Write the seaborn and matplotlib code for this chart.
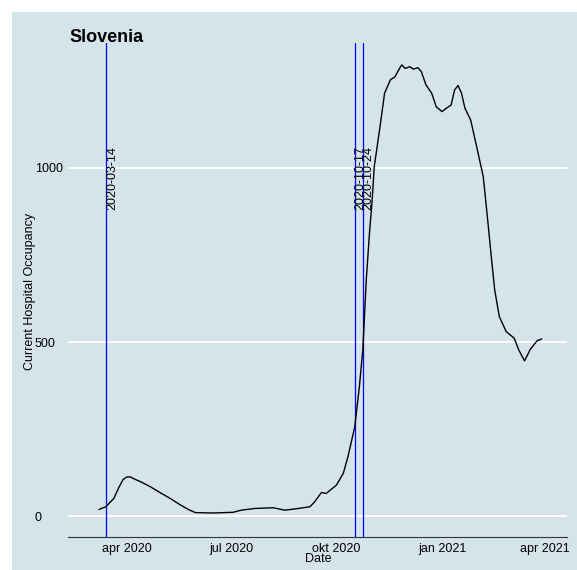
import matplotlib
matplotlib.use("Agg")
import matplotlib.pyplot as plt
from matplotlib.patches import Rectangle
import pandas as pd
import seaborn as sns

# ── data ──────────────────────────────────────────────────────────────────────
DATES = ["2020-03-08", "2020-03-14", "2020-03-21", "2020-03-25", "2020-03-29",
         "2020-04-01", "2020-04-04", "2020-04-07", "2020-04-15", "2020-04-22",
         "2020-04-30", "2020-05-09", "2020-05-18", "2020-05-25", "2020-05-31",
         "2020-06-16", "2020-07-03", "2020-07-10", "2020-07-22", "2020-08-07",
         "2020-08-17", "2020-08-29", "2020-09-08", "2020-09-12", "2020-09-18",
         "2020-09-22", "2020-10-01", "2020-10-07", "2020-10-11", "2020-10-17",
         "2020-10-21", "2020-10-24", "2020-10-27", "2020-10-30", "2020-11-01",
         "2020-11-03", "2020-11-08", "2020-11-12", "2020-11-17", "2020-11-21",
         "2020-11-25", "2020-11-27", "2020-11-30", "2020-12-04", "2020-12-07",
         "2020-12-11", "2020-12-14", "2020-12-18", "2020-12-23", "2020-12-27",
         "2021-01-01", "2021-01-05", "2021-01-09", "2021-01-12", "2021-01-15",
         "2021-01-18", "2021-01-21", "2021-01-26", "2021-01-31", "2021-02-06",
         "2021-02-10", "2021-02-13", "2021-02-16", "2021-02-20", "2021-02-26",
         "2021-03-05", "2021-03-09", "2021-03-14", "2021-03-19", "2021-03-25",
         "2021-03-29"]
OCCUPANCY = [19, 27, 51, 80, 105,
             112, 113, 108, 96, 84,
             68, 51, 32, 19, 10,
             9, 11, 17, 22, 24,
             17, 22, 27, 41, 68,
             65, 89, 123, 170, 257,
             372, 477, 678, 822, 900,
             1004, 1119, 1215, 1253, 1262,
             1286, 1296, 1286, 1291, 1284,
             1288, 1277, 1239, 1215, 1176,
             1162, 1172, 1181, 1224, 1237,
             1215, 1172, 1138, 1065, 975,
             846, 745, 649, 573, 530,
             511, 477, 446, 479, 504,
             509]
EVENTS = ["2020-03-14", "2020-10-17", "2020-10-24"]
XTICKS = ["2020-04-01", "2020-07-01", "2020-10-01", "2021-01-01", "2021-04-01"]
XTICK_LABELS = ["apr 2020", "jul 2020", "okt 2020", "jan 2021", "apr 2021"]
YTICKS = [0, 500, 1000]

BG = "#d5e4eb"
W, H = 577, 570

sns.set_style("white")
plt.rcParams["font.family"] = ["Liberation Sans", "DejaVu Sans"]
plt.rcParams.update({"text.color": "black", "axes.labelcolor": "black",
                     "xtick.color": "black", "ytick.color": "black"})

df = pd.DataFrame({"date": pd.to_datetime(DATES), "occ": OCCUPANCY})

fig = plt.figure(figsize=(W / 100, H / 100), dpi=100, facecolor="white")
fig.patches.append(Rectangle((12 / W, 0), 1, 1 - 12 / H, transform=fig.transFigure,
                             facecolor=BG, edgecolor="none", zorder=-10))
ax = fig.add_axes([68 / W, 33 / H, 499 / W, 494 / H])
ax.set_facecolor(BG)

# white horizontal grid
for y in YTICKS:
    ax.axhline(y, color="white", lw=1.3, zorder=1)

sns.lineplot(data=df, x="date", y="occ", color="black", lw=1.0, ax=ax, zorder=3)

# event markers
for d in EVENTS:
    dt = pd.Timestamp(d)
    ax.axvline(dt, color="#0000ff", lw=0.9, zorder=2)
    ax.text(dt, 879, d, rotation=90, ha="left", va="bottom", fontsize=9, zorder=4)

ax.set_xlim(pd.Timestamp("2020-02-10"), pd.Timestamp("2021-04-20"))
ax.set_ylim(-60, 1359)
ax.set_xticks(pd.to_datetime(XTICKS))
ax.set_xticklabels(XTICK_LABELS, fontsize=9)
ax.set_yticks(YTICKS)
ax.set_yticklabels([str(v) for v in YTICKS], fontsize=9)
for lab in ax.get_yticklabels():
    lab.set_horizontalalignment("left")
ax.tick_params(axis="y", length=0, pad=23.8)
ax.tick_params(axis="x", direction="in", length=3.8, width=0.8, color="#333333", pad=4)
ax.set_xlabel("")
ax.set_ylabel("")

for s in ["top", "right", "left"]:
    ax.spines[s].set_visible(False)
ax.spines["bottom"].set_color("#333333")
ax.spines["bottom"].set_linewidth(0.8)

fig.text(69 / W, 1 - 42 / H, "Slovenia", fontsize=13, fontweight="bold", va="baseline")
fig.text(30 / W, 1 - 291 / H, "Current Hospital Occupancy", rotation=90,
         ha="center", va="center", fontsize=9)
fig.text(318 / W, 1 - 559 / H, "Date", ha="center", va="center", fontsize=9)

fig.savefig("out.png", dpi=100, facecolor="white")
